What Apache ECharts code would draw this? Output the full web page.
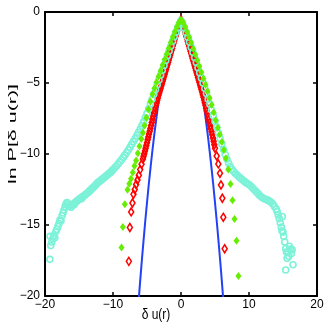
<!DOCTYPE html>
<html><head><meta charset="utf-8">
<script src="https://cdn.jsdelivr.net/npm/echarts@6/dist/echarts.min.js"></script>
<style>html,body{margin:0;padding:0;background:#fff}#c{width:327px;height:327px}</style>
</head><body><div id="c"></div>
<script>
// ---- data ----
const xTicks = [-20, -10, 0, 10, 20];
const yTicks = [-20, -15, -10, -5, 0];
const xAxisName = 'δ u(r)';
const yAxisName = 'ln P[δ u(r)]';

const bluePoints = [[-6.3,-20.77],[-6,-18.92],[-5.5,-16.05],[-5,-13.42],[-4.5,-11.05],[-4,-8.92],[-3.5,-7.05],[-3,-5.42],[-2.5,-4.05],[-2,-2.92],[-1.5,-2.05],[-1,-1.42],[-0.5,-1.05],[0,-0.92],[0.5,-1.05],[1,-1.42],[1.5,-2.05],[2,-2.92],[2.5,-4.05],[3,-5.42],[3.5,-7.05],[4,-8.92],[4.5,-11.05],[5,-13.42],[5.5,-16.05],[6,-18.92],[6.3,-20.77]];

const redPoints = [[-7.67,-17.56],[-7.52,-15.18],[-7.33,-14.08],[-7.14,-13.45],[-6.99,-12.84],[-6.8,-12.5],[-6.6,-12.15],[-6.4,-11.83],[-6.2,-11.5],[-6.0,-11.1],[-5.8,-10.72],
[-5.6,-10.35],[-5.5,-10.16],[-5.4,-9.98],[-5.3,-9.79],[-5.2,-9.6],[-5.1,-9.4],[-5.0,-9.2],[-4.9,-9.0],[-4.8,-8.8],[-4.7,-8.6],[-4.6,-8.4],[-4.5,-8.2],[-4.4,-8.0],[-4.3,-7.78],[-4.2,-7.55],[-4.1,-7.33],[-4.0,-7.12],[-3.9,-6.93],[-3.8,-6.75],[-3.7,-6.57],[-3.6,-6.4],[-3.5,-6.22],[-3.4,-6.05],[-3.3,-5.87],[-3.2,-5.7],[-3.1,-5.54],[-3.0,-5.38],[-2.9,-5.21],[-2.8,-5.05],[-2.7,-4.88],[-2.6,-4.72],[-2.5,-4.55],[-2.4,-4.38],[-2.3,-4.21],[-2.2,-4.05],[-2.1,-3.88],[-2.0,-3.72],[-1.9,-3.55],[-1.8,-3.38],[-1.7,-3.21],[-1.6,-3.05],[-1.5,-2.88],[-1.4,-2.72],[-1.3,-2.55],[-1.2,-2.38],[-1.1,-2.21],[-1.0,-2.05],[-0.9,-1.88],[-0.8,-1.72],[-0.7,-1.55],[-0.6,-1.38],[-0.5,-1.23],[-0.4,-1.08],[-0.3,-0.94],[-0.2,-0.8],[-0.1,-0.67],[0,-0.55],
[0.1,-0.67],[0.2,-0.8],[0.3,-0.94],[0.4,-1.08],[0.5,-1.24],[0.6,-1.4],[0.7,-1.57],[0.8,-1.74],[0.9,-1.91],[1.0,-2.08],[1.1,-2.25],[1.2,-2.42],[1.3,-2.59],[1.4,-2.76],[1.5,-2.93],[1.6,-3.1],[1.7,-3.27],[1.8,-3.43],[1.9,-3.6],[2.0,-3.77],[2.1,-3.94],[2.2,-4.1],[2.3,-4.27],[2.4,-4.44],[2.5,-4.61],[2.6,-4.78],[2.7,-4.95],[2.8,-5.12],[2.9,-5.29],[3.0,-5.46],[3.1,-5.64],[3.2,-5.82],[3.3,-6.01],[3.4,-6.2],[3.5,-6.39],[3.6,-6.58],[3.7,-6.77],[3.8,-6.97],[3.9,-7.17],[4.0,-7.38],[4.1,-7.59],[4.2,-7.8],[4.3,-8.01],[4.4,-8.22],[4.5,-8.43],[4.6,-8.65],[4.7,-8.87],[4.8,-9.1],[4.9,-9.35],[5.0,-9.6],
[5.25,-10.14],[5.49,-10.7],[5.73,-11.36],[5.88,-12.18],[6.08,-13.12],[6.22,-14.46],[6.42,-16.67]];

const greenPoints = [[-8.75,-16.59],[-8.55,-15.14],[-8.26,-13.54],[-7.87,-12.51],[-7.6,-12.1],[-7.35,-11.75],[-7.1,-11.3],[-6.85,-10.85],[-6.6,-10.45],[-6.35,-9.95],[-6.1,-9.45],[-5.85,-8.95],[-5.6,-8.5],[-5.35,-8.0],[-5.1,-7.45],[-4.8,-6.85],[-4.5,-6.3],[-4.2,-5.8],[-3.9,-5.37],[-3.6,-4.95],[-3.3,-4.55],[-3.0,-4.15],[-2.7,-3.75],[-2.4,-3.35],[-2.1,-2.95],[-1.8,-2.55],[-1.5,-2.15],[-1.2,-1.76],[-0.9,-1.39],[-0.6,-1.04],[-0.3,-0.74],[0,-0.55],[0.3,-0.73],[0.6,-1.04],[0.9,-1.4],[1.2,-1.78],[1.5,-2.17],[1.8,-2.58],[2.1,-2.99],[2.4,-3.4],[2.7,-3.82],[3.0,-4.25],[3.3,-4.68],[3.6,-5.12],[3.9,-5.58],[4.2,-6.05],[4.5,-6.55],[4.8,-7.08],[5.1,-7.62],[5.4,-8.15],[5.7,-8.62],[6.0,-9.15],[6.3,-9.72],[6.6,-10.3],[6.95,-11.1],[7.28,-12.11],[7.57,-13.26],[7.87,-14.58],[8.16,-16.11],[8.45,-18.59]];

const cyanPoints = [[-19.28,-17.42],[-19.25,-15.8],[-19.15,-16.45],[-19.0,-16.2],[-18.85,-15.95],[-18.7,-15.75],[-18.55,-15.9],[-18.4,-15.45],[-18.25,-15.3],[-18.1,-15.1],[-17.95,-14.9],[-17.8,-14.65],[-17.65,-14.7],[-17.5,-14.35],[-17.35,-14.15],[-17.2,-13.95],[-17.05,-13.7],[-16.9,-13.5],[-16.75,-13.42],[-16.6,-13.55],[-16.45,-13.7],[-16.3,-13.62],[-16.15,-13.75],[-16.0,-13.6],[-15.85,-13.5],[-15.7,-13.55],[-15.55,-13.4],[-15.4,-13.35],[-15.25,-13.3],[-15.1,-13.22],[-14.95,-13.2],[-14.8,-13.1],[-14.65,-13.15],[-14.5,-13.02],[-14.35,-12.98],[-14.2,-12.92],[-14.05,-12.85],[-13.9,-12.8],[-13.75,-12.75],[-13.6,-12.68],[-13.45,-12.6],[-13.3,-12.55],[-13.15,-12.45],[-13.0,-12.4],[-12.85,-12.32],[-12.7,-12.25],[-12.55,-12.18],[-12.4,-12.1],[-12.25,-12.02],[-12.1,-11.96],[-11.95,-11.92],[-11.8,-11.86],[-11.65,-11.8],[-11.5,-11.74],[-11.35,-11.68],[-11.2,-11.62],[-11.05,-11.57],[-10.9,-11.5],[-10.75,-11.44],[-10.6,-11.38],[-10.45,-11.32],[-10.3,-11.25],[-10.15,-11.18],[-10.0,-11.1],[-9.75,-10.97],[-9.5,-10.84],[-9.25,-10.7],[-9.0,-10.55],[-8.75,-10.4],[-8.5,-10.24],[-8.25,-10.08],[-8.0,-9.9],[-7.75,-9.72],[-7.5,-9.52],[-7.25,-9.32],[-7.0,-9.12],[-6.75,-8.92],[-6.5,-8.7],[-6.25,-8.48],[-6.0,-8.25],[-5.75,-8.0],[-5.5,-7.74],[-5.25,-7.45],[-5.0,-7.14],[-4.75,-6.82],[-4.5,-6.48],[-4.25,-6.14],[-4.0,-5.8],[-3.75,-5.46],[-3.5,-5.12],[-3.25,-4.78],[-3.0,-4.44],[-2.75,-4.1],[-2.5,-3.76],[-2.25,-3.42],[-2.0,-3.08],[-1.75,-2.74],[-1.5,-2.4],[-1.25,-2.06],[-1.0,-1.74],[-0.75,-1.42],[-0.5,-1.12],[-0.25,-0.85],[0,-0.62],[0.25,-0.85],[0.5,-1.12],[0.75,-1.45],[1.0,-1.78],[1.25,-2.12],[1.5,-2.48],[1.75,-2.84],[2.0,-3.2],[2.25,-3.56],[2.5,-3.92],[2.75,-4.28],[3.0,-4.64],[3.25,-5.0],[3.5,-5.37],[3.75,-5.74],[4.0,-6.12],[4.25,-6.5],[4.5,-6.9],[4.75,-7.3],[5.0,-7.7],[5.25,-8.1],[5.5,-8.5],[5.75,-8.9],[6.0,-9.3],[6.25,-9.68],[6.5,-10.04],[6.75,-10.36],[7.0,-10.64],[7.25,-10.88],[7.5,-11.08],[7.75,-11.24],[8.0,-11.38],[8.25,-11.48],[8.5,-11.6],[8.75,-11.7],[9.0,-11.8],[9.25,-11.9],[9.5,-12.0],[9.75,-12.08],[10.0,-12.15],[10.25,-12.25],[10.5,-12.38],[10.75,-12.5],[11.0,-12.62],[11.25,-12.75],[11.5,-12.88],[11.75,-13.0],[12.0,-13.08],[12.25,-13.15],[12.5,-13.2],[12.75,-13.25],[13.0,-13.32],[13.25,-13.4],[13.5,-13.52],[13.75,-13.7],[14.0,-13.88],[14.15,-14.05],[14.3,-14.3],[14.45,-14.55],[14.6,-14.85],[14.75,-15.15],[14.85,-15.4],[14.9,-14.4],[15.0,-15.5],[15.1,-15.8],[15.25,-16.2],[15.4,-16.65],[15.5,-16.9],[15.6,-17.35],[15.4,-18.17],[15.75,-16.9],[15.95,-16.5],[16.1,-16.7],[16.23,-17.0],[16.35,-16.75],[16.47,-17.8],[15.85,-17.2]];

// ---- chart ----
const FONT = '"Liberation Sans", Arial, Helvetica, sans-serif';
const fmt = v => (v < 0 ? '\u2212' + Math.abs(v) : String(v));
const axisCommon = {
  axisLine: { show: true, onZero: false, lineStyle: { color: '#000', width: 2 } },
  axisTick: { show: true, inside: true, length: 4, lineStyle: { color: '#000', width: 1.5 } },
  splitLine: { show: false }
};
const chart = echarts.init(document.getElementById('c'), null, { renderer: 'canvas' });
chart.setOption({
  backgroundColor: '#fff',
  animation: false,
  grid: { left: 45, right: 10, top: 12, bottom: 31 },
  xAxis: [
    Object.assign({ type: 'value', position: 'bottom', min: xTicks[0], max: xTicks[xTicks.length - 1], interval: xTicks[1] - xTicks[0],
      axisLabel: { color: '#000', fontSize: 12, fontFamily: FONT, margin: 3, formatter: fmt } }, axisCommon),
    Object.assign({ type: 'value', position: 'top', min: xTicks[0], max: xTicks[xTicks.length - 1], interval: xTicks[1] - xTicks[0],
      axisLabel: { show: false } }, axisCommon)
  ],
  yAxis: [
    Object.assign({ type: 'value', position: 'left', min: yTicks[0], max: yTicks[yTicks.length - 1], interval: yTicks[1] - yTicks[0],
      axisLabel: { color: '#000', fontSize: 12, fontFamily: FONT, margin: 5, formatter: fmt } }, axisCommon),
    Object.assign({ type: 'value', position: 'right', min: yTicks[0], max: yTicks[yTicks.length - 1], interval: yTicks[1] - yTicks[0],
      axisLabel: { show: false } }, axisCommon)
  ],
  graphic: [
    { type: 'text', x: 13, y: 134, rotation: Math.PI / 2, scaleX: 1.95, z: 100,
      style: { text: yAxisName, font: '11px ' + FONT, fill: '#000', align: 'center', verticalAlign: 'middle', textAlign: 'center', textVerticalAlign: 'middle' } },
    { type: 'text', x: 156, y: 315, scaleY: 1.25, z: 100,
      style: { text: xAxisName, font: '12px ' + FONT, fill: '#000', align: 'center', verticalAlign: 'middle', textAlign: 'center', textVerticalAlign: 'middle' } }
  ],
  series: [
    { type: 'line', data: bluePoints, smooth: true, showSymbol: false, symbol: 'none', clip: true,
      lineStyle: { color: '#2142f5', width: 2 }, z: 2 },
    { type: 'scatter', data: redPoints, symbol: 'diamond', symbolSize: [5, 8], clip: true,
      itemStyle: { color: 'rgba(255,255,255,0)', borderColor: '#ff0000', borderWidth: 1.6, opacity: 1 }, z: 3 },
    { type: 'scatter', data: cyanPoints, symbol: 'circle', symbolSize: 6, clip: true,
      itemStyle: { color: 'rgba(255,255,255,0)', borderColor: '#7cf2d8', borderWidth: 1.6, opacity: 1 }, z: 4 },
    { type: 'scatter', data: greenPoints, symbol: 'diamond', symbolSize: [6, 8], clip: true,
      itemStyle: { color: '#66ee00', opacity: 1 }, z: 5 }
  ]
});
</script>
</body></html>
